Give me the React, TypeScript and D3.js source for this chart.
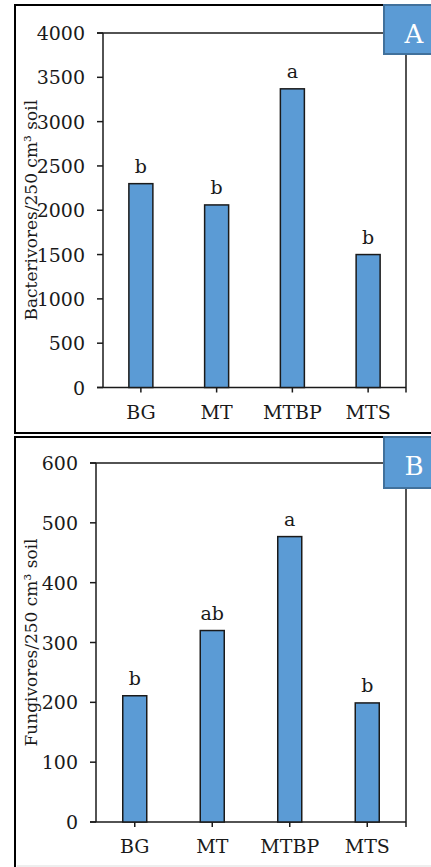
import React from "react";
import { scaleBand, scaleLinear } from "d3";

const categories = ["BG", "MT", "MTBP", "MTS"];
const bacterivores = [2300, 2060, 3370, 1500];
const bacterivoreLetters = ["b", "b", "a", "b"];
const bacterivoreTicks = [0, 500, 1000, 1500, 2000, 2500, 3000, 3500, 4000];
const fungivores = [211, 320, 477, 199];
const fungivoreLetters = ["b", "ab", "a", "b"];
const fungivoreTicks = [0, 100, 200, 300, 400, 500, 600];

const font = "'DejaVu Serif', serif";
const ink = "#1a1a1a";

type PanelProps = {
  values: number[];
  letters: string[];
  ticks: number[];
  label: string;
  tag: string;
  left: number;
  right: number;
  top: number;
  bottom: number;
  frameTop: number;
  frameBottom: number;
  tagHeight: number;
};

const Panel = (props: PanelProps) => {
  const { values, letters, ticks, label, tag, left, right, top, bottom } = props;
  const y = scaleLinear().domain([0, ticks[ticks.length - 1]]).range([bottom, top]);
  const band = scaleBand().domain(categories).range([left, right]);
  const center = (c: string) => (band(c) as number) + band.bandwidth() / 2;
  const bw = 24;

  return (
    <g>
      <rect x={15} y={props.frameTop} width={440} height={props.frameBottom - props.frameTop}
        fill="none" stroke="#000" strokeWidth={2} />
      {/* plot frame */}
      <line x1={left - 6} x2={right} y1={top} y2={top} stroke={ink} strokeWidth={1.5} />
      <line x1={right} x2={right} y1={top} y2={bottom + 5} stroke={ink} strokeWidth={1.5} />
      <line x1={left} x2={left} y1={top} y2={bottom} stroke={ink} strokeWidth={1.5} />
      <line x1={left - 6} x2={right} y1={bottom} y2={bottom} stroke={ink} strokeWidth={1.5} />
      {ticks.map(t => (
        <g key={t}>
          <line x1={left - 6} x2={left} y1={y(t)} y2={y(t)} stroke={ink} strokeWidth={1.5} />
          <text x={left - 18} y={y(t) + 7} textAnchor="end" fontFamily={font} fontSize={19} fill={ink}>
            {t}
          </text>
        </g>
      ))}
      {categories.map((c, i) => (
        <g key={c}>
          <rect x={center(c) - bw / 2} y={y(values[i])} width={bw} height={bottom - y(values[i])}
            fill="#5b9bd5" stroke={ink} strokeWidth={1.5} />
          <line x1={center(c)} x2={center(c)} y1={bottom} y2={bottom + 5} stroke={ink} strokeWidth={1.5} />
          <text x={center(c)} y={bottom + 31} textAnchor="middle" fontFamily={font} fontSize={19} fill={ink}>
            {c}
          </text>
          <text x={center(c)} y={y(values[i]) - 11} textAnchor="middle" fontFamily={font} fontSize={19} fill={ink}>
            {letters[i]}
          </text>
        </g>
      ))}
      <text transform={`translate(37,${(top + bottom) / 2}) rotate(-90)`} textAnchor="middle"
        fontFamily={font} fontSize={17} fill={ink}>
        {label}
      </text>
      <rect x={384} y={props.frameTop} width={60} height={props.tagHeight}
        fill="#5b9bd5" stroke="#41719c" strokeWidth={2} />
      <text x={414} y={props.frameTop + 38} textAnchor="middle" fontFamily={font} fontSize={26} fill="#fff">
        {tag}
      </text>
    </g>
  );
};

export default function App() {
  return (
    <svg width={431} height={867} style={{ position: "absolute", left: 0, top: 0, background: "#fff" }}>
      <Panel values={bacterivores} letters={bacterivoreLetters} ticks={bacterivoreTicks}
        label="Bacterivores/250 cm³ soil" tag="A" left={103} right={406} top={33} bottom={387.5}
        frameTop={5} frameBottom={433} tagHeight={49} />
      <Panel values={fungivores} letters={fungivoreLetters} ticks={fungivoreTicks}
        label="Fungivores/250 cm³ soil" tag="B" left={96} right={406} top={463} bottom={822}
        frameTop={437} frameBottom={880} tagHeight={51} />
      <rect x={17} y={865} width={414} height={2} fill="#eeeeee" />
    </svg>
  );
}
